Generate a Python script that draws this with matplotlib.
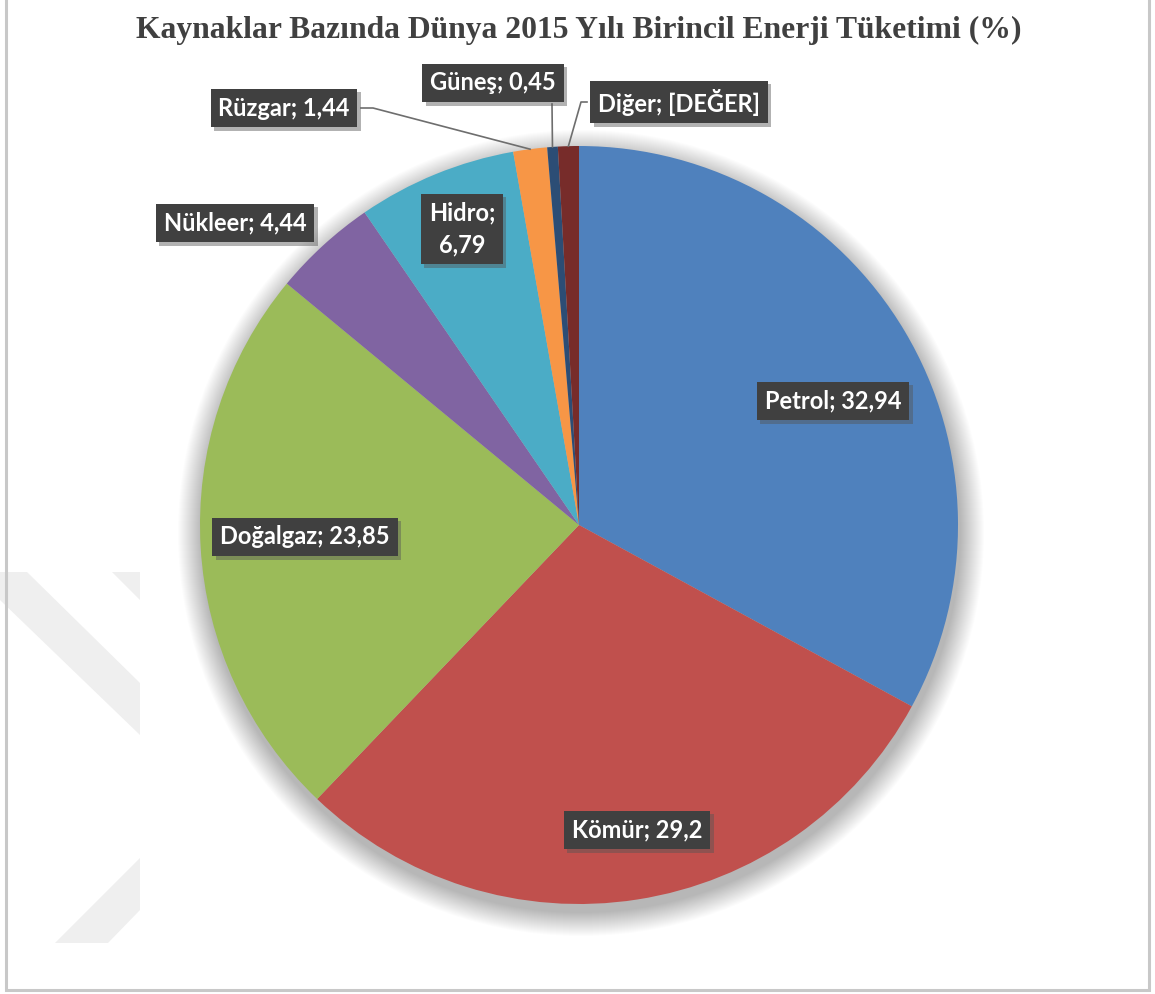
import numpy as np
import matplotlib.pyplot as plt
from matplotlib.patches import Circle, Polygon
import matplotlib.patheffects as pe

# veriler
kaynaklar = ['Petrol', 'Kömür', 'Doğalgaz', 'Nükleer', 'Hidro', 'Rüzgar', 'Güneş', 'Diğer']
degerler = [32.94, 29.2, 23.85, 4.44, 6.79, 1.44, 0.45, 0.89]
etiketler = ['Petrol; 32,94', 'Kömür; 29,2', 'Doğalgaz; 23,85', 'Nükleer; 4,44',
             'Hidro;\n6,79', 'Rüzgar; 1,44', 'Güneş; 0,45', 'Diğer; [DEĞER]']
renkler = ['#4F81BD', '#C0504D', '#9BBB59', '#8064A2',
           '#4BACC6', '#F79646', '#2C4D75', '#772C2A']
baslik = 'Kaynaklar Bazında Dünya 2015 Yılı Birincil Enerji Tüketimi (%)'

W, H = 1155, 994
merkez = (579, 525)
yaricap = 379
# etiket kutusu merkezleri (piksel)
etiket_yer = [(833, 401), (637, 830), (305, 537), (235, 223),
              (462, 229), (284, 108), (493, 83), (679, 102)]

fig = plt.figure(figsize=(W / 100, H / 100), dpi=100)
ax = fig.add_axes([0, 0, 1, 1])

# filigran
for pts in [[(0, 600), (0, 572), (27, 572), (140, 683), (140, 735)],
            [(112, 572), (140, 572), (140, 600)],
            [(55, 943), (108, 943), (140, 910), (140, 858)]]:
    ax.add_patch(Polygon(pts, closed=True, fc='#EFEFEF', ec='none', zorder=0))

# pasta golgesi
for i in range(24):
    ax.add_patch(Circle((merkez[0] + 2, merkez[1] + 8), yaricap + 24 - i,
                        fc='black', ec='none', alpha=0.01, zorder=1))

# y ekseni ters oldugu icin counterclock=True ekranda saat yonunde
wedges, _ = ax.pie(degerler, colors=renkler, startangle=-90, counterclock=True,
                   center=merkez, radius=yaricap,
                   wedgeprops=dict(linewidth=0))
for w in wedges:
    w.set_zorder(2)

ax.set_xlim(0, W)
ax.set_ylim(H, 0)
ax.set_aspect('equal')
ax.axis('off')

# cerceve
ax.plot([6, 6, 1149, 1149], [-5, 990, 990, -5], color='#C8C8C8', lw=2.2,
        solid_joinstyle='miter', zorder=1, clip_on=False)

# etiketler
for txt, (x, y) in zip(etiketler, etiket_yer):
    t = ax.text(x, y, txt, ha='center', va='center', color='white',
                fontsize=17, fontweight='bold', family='Lato',
                linespacing=1.45, zorder=5,
                bbox=dict(boxstyle='square,pad=0.33', fc='#404040', ec='none'))
    t.get_bbox_patch().set_path_effects([
        pe.SimplePatchShadow(offset=(2.5, -2.5), shadow_rgbFace='#555555', alpha=0.45),
        pe.Normal()])

# baglanti cizgileri (dilim ortasindaki kenar noktasi)
def kenar(i):
    w = wedges[i]
    a = np.deg2rad((w.theta1 + w.theta2) / 2)
    return merkez[0] + yaricap * np.cos(a), merkez[1] + yaricap * np.sin(a)

for i, yol in [(5, [(361, 108), (373, 108)]),
               (6, [(552, 104)]),
               (7, [(587, 102), (581, 102)])]:
    px, py = kenar(i)
    xs = [p[0] for p in yol] + [px]
    ys = [p[1] for p in yol] + [py]
    ax.plot(xs, ys, color='#6E6E6E', lw=1.2, zorder=4)

ax.text(579, 30, baslik, ha='center', va='center', color='#404040',
        fontsize=22.8, fontweight='bold', family='Liberation Serif')

fig.savefig('out.png', dpi=100)
